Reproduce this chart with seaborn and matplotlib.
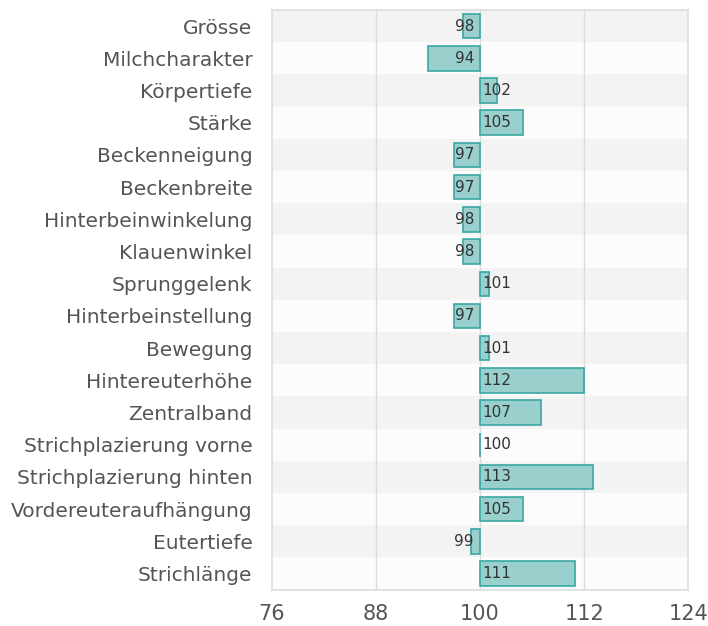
import numpy as np
import pandas as pd
import matplotlib
matplotlib.use("Agg")
import matplotlib.pyplot as plt
from matplotlib.ticker import FuncFormatter
import seaborn as sns

traits = ["Grösse", "Milchcharakter", "Körpertiefe", "Stärke", "Beckenneigung",
          "Beckenbreite", "Hinterbeinwinkelung", "Klauenwinkel", "Sprunggelenk",
          "Hinterbeinstellung", "Bewegung", "Hintereuterhöhe", "Zentralband",
          "Strichplazierung vorne", "Strichplazierung hinten",
          "Vordereuteraufhängung", "Eutertiefe", "Strichlänge"]
values = [98, 94, 102, 105, 97, 97, 98, 98, 101, 97, 101, 112, 107, 100, 113, 105, 99, 111]
base = 100
ticks = [76, 88, 100, 112, 124]

df = pd.DataFrame({"trait": traits, "value": values})
df["delta"] = df["value"] - base

sns.set_style("white")
fig, ax = plt.subplots(figsize=(7.08, 6.26), dpi=100)
fig.subplots_adjust(left=0.384, right=0.972, top=0.984, bottom=0.058)

# alternating row bands
for i in range(len(traits)):
    ax.axhspan(i - 0.5, i + 0.5, color="#f3f3f3" if i % 2 == 0 else "#fcfcfc",
               zorder=0, lw=0)

for t in ticks[1:-1]:
    ax.axvline(t - base, color="#dcdcdc", lw=1, zorder=0.5)

sns.barplot(data=df, x="delta", y="trait", orient="h", ax=ax,
            color="#99d0cd", edgecolor="#3aa7a3", linewidth=1.2,
            width=0.76, saturation=1, zorder=2)

for i, v in enumerate(values):
    if v < base:
        ax.text(-0.7, i, str(v), ha="right", va="center", fontsize=11, color="#333333", zorder=3)
    else:
        ax.text(0.3, i, str(v), ha="left", va="center", fontsize=11, color="#333333", zorder=3)

ax.set_xlim(ticks[0] - base, ticks[-1] - base)
ax.set_ylim(len(traits) - 0.5, -0.5)
ax.set_xticks([t - base for t in ticks])
ax.xaxis.set_major_formatter(FuncFormatter(lambda x, p: f"{int(round(x + base))}"))
ax.set_xlabel("")
ax.set_ylabel("")
ax.tick_params(axis="x", labelsize=15, colors="#555555", length=0, pad=10)
ax.tick_params(axis="y", labelsize=14.5, colors="#555555", length=0, pad=14)
for s in ax.spines.values():
    s.set_color("#dddddd")
    s.set_linewidth(1.2)

fig.savefig("out.png", dpi=100)
